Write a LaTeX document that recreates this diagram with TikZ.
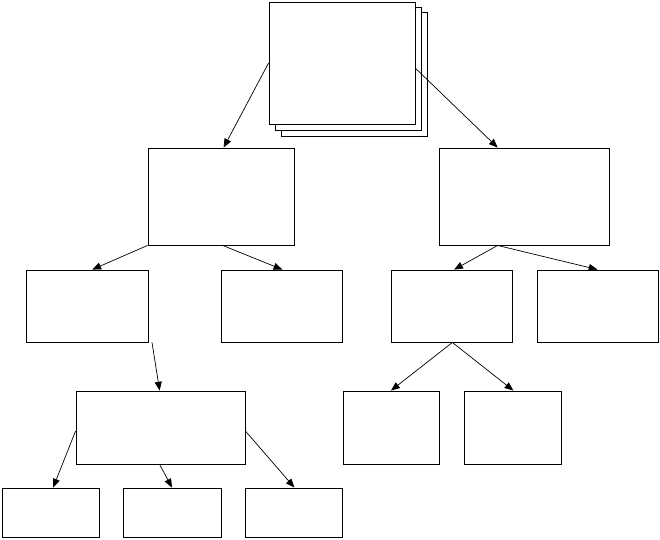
\documentclass[tikz,border=0pt]{standalone}
\usetikzlibrary{arrows.meta,fit}
\begin{document}
\begin{tikzpicture}[x=0.02cm,y=-0.02cm,
  box/.style={draw,fill=white,inner sep=0pt,line width=0.5pt},
  arr/.style={-{Triangle[length=5pt,width=4pt]},line width=0.4pt}]
\useasboundingbox (0,0) rectangle (660,539);
\node[box,fit={(281,12)(427,136)}] (s3) {};
\node[box,fit={(275,7)(421,130)}] (s2) {};
\node[box,fit={(269,2)(415,124)}] (top) {};
\node[box,fit={(148,148)(294,245)}] (l1) {};
\node[box,fit={(439,148)(609,245)}] (r1) {};
\node[box,fit={(26,270)(148,342)}] (a) {};
\node[box,fit={(221,270)(342,342)}] (b) {};
\node[box,fit={(391,270)(512,342)}] (c) {};
\node[box,fit={(537,270)(658,342)}] (d) {};
\node[box,fit={(76,391)(245,464)}] (e) {};
\node[box,fit={(343,391)(439,464)}] (f) {};
\node[box,fit={(464,391)(561,464)}] (g) {};
\node[box,fit={(2,488)(99,537)}] (h) {};
\node[box,fit={(123,488)(221,537)}] (i) {};
\node[box,fit={(245,488)(342,537)}] (j) {};
\draw[arr] (top.west) -- ([xshift=1.5]l1.north);
\draw[arr] ([yshift=-3]top.east) -- ([xshift=-15]r1.north);
\draw[arr] (l1.south west) -- ([xshift=3]a.north);
\draw[arr] ([xshift=1]l1.south) -- ([xshift=0.5]b.north);
\draw[arr] ([xshift=-15]r1.south) -- ([xshift=1.5]c.north);
\draw[arr] ([xshift=-15]r1.south) -- (d.north);
\draw[arr] ([xshift=37]a.south) -- ([xshift=-0.5]e.north);
\draw[arr] ([xshift=0.5]c.south) -- ([xshift=0]f.north);
\draw[arr] ([xshift=0.5]c.south) -- ([xshift=0.5]g.north);
\draw[arr] ([yshift=-2]e.west) -- ([xshift=1.5]h.north);
\draw[arr] ([xshift=-0.5]e.south) -- ([xshift=0]i.north);
\draw[arr] ([yshift=-2]e.east) -- ([xshift=0.5]j.north);
\end{tikzpicture}
\end{document}
